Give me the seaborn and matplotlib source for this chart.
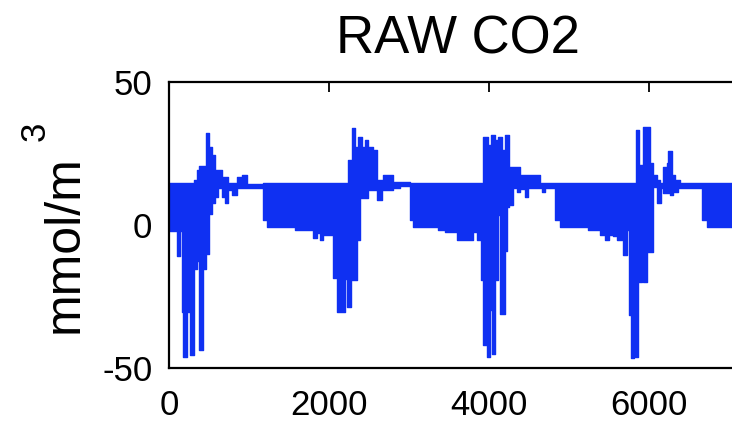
import numpy as np
import pandas as pd
import matplotlib
matplotlib.use("Agg")
import matplotlib.pyplot as plt
import seaborn as sns

# Raw CO2 record: piecewise envelope of the rapidly switching signal.
# Each entry starts at seg_start[i] and holds until the next start.
seg_start = [
    0, 104, 137, 167, 179, 221, 240, 262, 317, 346, 379, 429, 460, 505, 533,
    575, 617, 658, 700, 742, 783, 846, 908, 971,
    1179, 1221, 1580, 1804, 1846, 1887, 1929, 2054, 2096, 2200, 2221, 2242,
    2271, 2284, 2325, 2346, 2367, 2387, 2409, 2450, 2492, 2554, 2596, 2659,
    2679, 2804, 2887,
    3012, 3054, 3367, 3450, 3596, 3804, 3846, 3896, 3929, 3971, 3992, 4013,
    4025, 4042, 4075, 4117, 4137, 4158, 4200, 4221, 4254, 4304, 4346, 4387,
    4450, 4492, 4637, 4658, 4700,
    4825, 4887, 5242, 5387, 5450, 5504, 5554, 5604, 5658, 5679, 5729, 5754,
    5770, 5812, 5825, 5837, 5867, 5879, 5908, 5929, 5971, 6012, 6054, 6096,
    6137, 6146, 6179, 6221, 6242, 6262, 6283, 6304, 6325, 6367, 6387,
    6658, 6729,
]
co2_upper = [
    14.6, 14.6, 14.6, 14.6, 14.6, 14.6, 14.6, 14.6, 15.8, 19.3, 20.5, 20.5,
    32.3, 27.4, 24.5, 19.2, 19.2, 16.9, 16.9, 14.6, 14.6, 16.9, 17.5, 14.3,
    14.6, 14.6, 14.6, 14.6, 14.6, 14.6, 14.6, 14.6, 14.6, 14.6, 14.6, 22.8,
    22.8, 33.8, 27.4, 27.4, 30.9, 30.9, 27.4, 29.8, 27.4, 26.3, 15.8, 15.8,
    17.5, 15.2, 15.0,
    14.6, 14.6, 14.6, 14.6, 14.6, 14.6, 14.6, 14.6, 30.9, 30.9, 28.0, 28.0,
    31.5, 31.5, 29.8, 30.9, 30.9, 26.3, 31.3, 31.3, 20.4, 20.4, 20.4, 17.5,
    17.5, 17.5, 14.8, 14.8, 14.8,
    14.6, 14.6, 14.6, 14.6, 14.6, 14.6, 14.6, 14.6, 14.6, 14.6, 14.6, 14.6,
    14.6, 14.6, 14.6, 33.3, 33.3, 21.0, 21.0, 34.2, 34.2, 21.6, 17.5, 15.8,
    14.6, 14.6, 20.4, 21.6, 25.7, 25.7, 17.5, 17.5, 15.8, 15.8, 14.6,
    14.6, 14.6,
]
co2_lower = [
    -2.0, -11.0, -2.0, -30.5, -46.0, 4.0, -30.5, -45.5, -15.5, -12.5, -43.8,
    -15.5, -10.0, 4.0, 7.6, 9.9, 12.8, 9.9, 7.6, 12.2, 10.5, 12.8, 12.8, 12.9,
    1.7, -0.6, -1.75, -4.6, -2.9, -5.25, -3.5, -18.6, -30.3, -19.0, -28.6,
    -28.6, -19.3, -19.3, -19.3, -5.25, -5.25, 9.4, 9.4, 9.4, 12.25, 12.25,
    8.75, 12.25, 12.25, 12.8, 13.5,
    1.75, -0.6, -1.75, -2.3, -5.25, -2.3, -5.25, -19.3, -42.0, -46.0, -46.0,
    -29.8, -29.8, -45.0, -19.3, 3.5, -31.0, -31.0, -9.0, 6.4, 7.0, 13.0,
    11.5, 12.5, 9.9, 12.9, 12.9, 11.7, 12.9,
    1.75, -0.6, -1.75, -3.5, -5.25, -3.5, -4.0, -5.25, -1.75, -10.5, -1.75,
    -31.5, -46.6, -31.8, -46.0, -46.0, -19.8, -19.8, -12.3, -19.8, -9.3,
    -9.3, 13.4, 7.6, 7.6, 12.9, 11.1, 11.1, 11.1, 10.5, 10.5, 11.7, 11.7,
    12.9, 12.9,
    1.75, -0.6,
]
record_end = 7225

x_ticks = [0, 2000, 4000, 6000]
y_ticks = [-50, 0, 50]

sns.set_theme(style="white")
plt.rcParams["font.family"] = ["Liberation Sans", "DejaVu Sans"]

line_blue = "#0f30f2"

df = pd.DataFrame({
    "sample": np.append(seg_start, record_end),
    "upper": np.append(co2_upper, co2_upper[-1]),
    "lower": np.append(co2_lower, co2_lower[-1]),
})

fig = plt.figure(figsize=(7.32, 4.22), dpi=100)
ax = fig.add_axes([169 / 732, 54 / 422, 578 / 732, 286 / 422])

ax.fill_between(df["sample"], df["lower"], df["upper"], step="post",
                color=line_blue, linewidth=0)
sns.lineplot(data=df, x="sample", y="upper", drawstyle="steps-post",
             color=line_blue, linewidth=1.0, ax=ax)
sns.lineplot(data=df, x="sample", y="lower", drawstyle="steps-post",
             color=line_blue, linewidth=1.0, ax=ax)

ax.set_xlim(0, record_end)
ax.set_ylim(-50, 50)
ax.set_xticks(x_ticks)
ax.set_yticks(y_ticks)
ax.set_xticklabels([str(t) for t in x_ticks])
ax.set_yticklabels([str(t) for t in y_ticks])
ax.set_xlabel("")
ax.set_ylabel("")

for side in ["left", "right", "top", "bottom"]:
    ax.spines[side].set_visible(True)
    ax.spines[side].set_color("black")
    ax.spines[side].set_linewidth(1.6)

ax.tick_params(axis="both", which="major", direction="in", length=7,
               width=1.3, color="black", top=True, right=True,
               labelsize=25, labelcolor="black")
ax.tick_params(axis="x", pad=15)
ax.tick_params(axis="y", pad=12)

fig.text(458 / 732, (422 - 53) / 422, "RAW CO2", ha="center", va="baseline",
         fontsize=38, color="black")

fig.text(78 / 732, (422 - 244) / 422, "mmol/m", rotation=90,
         rotation_mode="anchor", ha="center", va="baseline",
         fontsize=36, color="black")
fig.text(45 / 732, (422 - 131.5) / 422, "3", rotation=90,
         rotation_mode="anchor", ha="center", va="baseline",
         fontsize=25, color="black")

fig.savefig("out.png", dpi=100)
